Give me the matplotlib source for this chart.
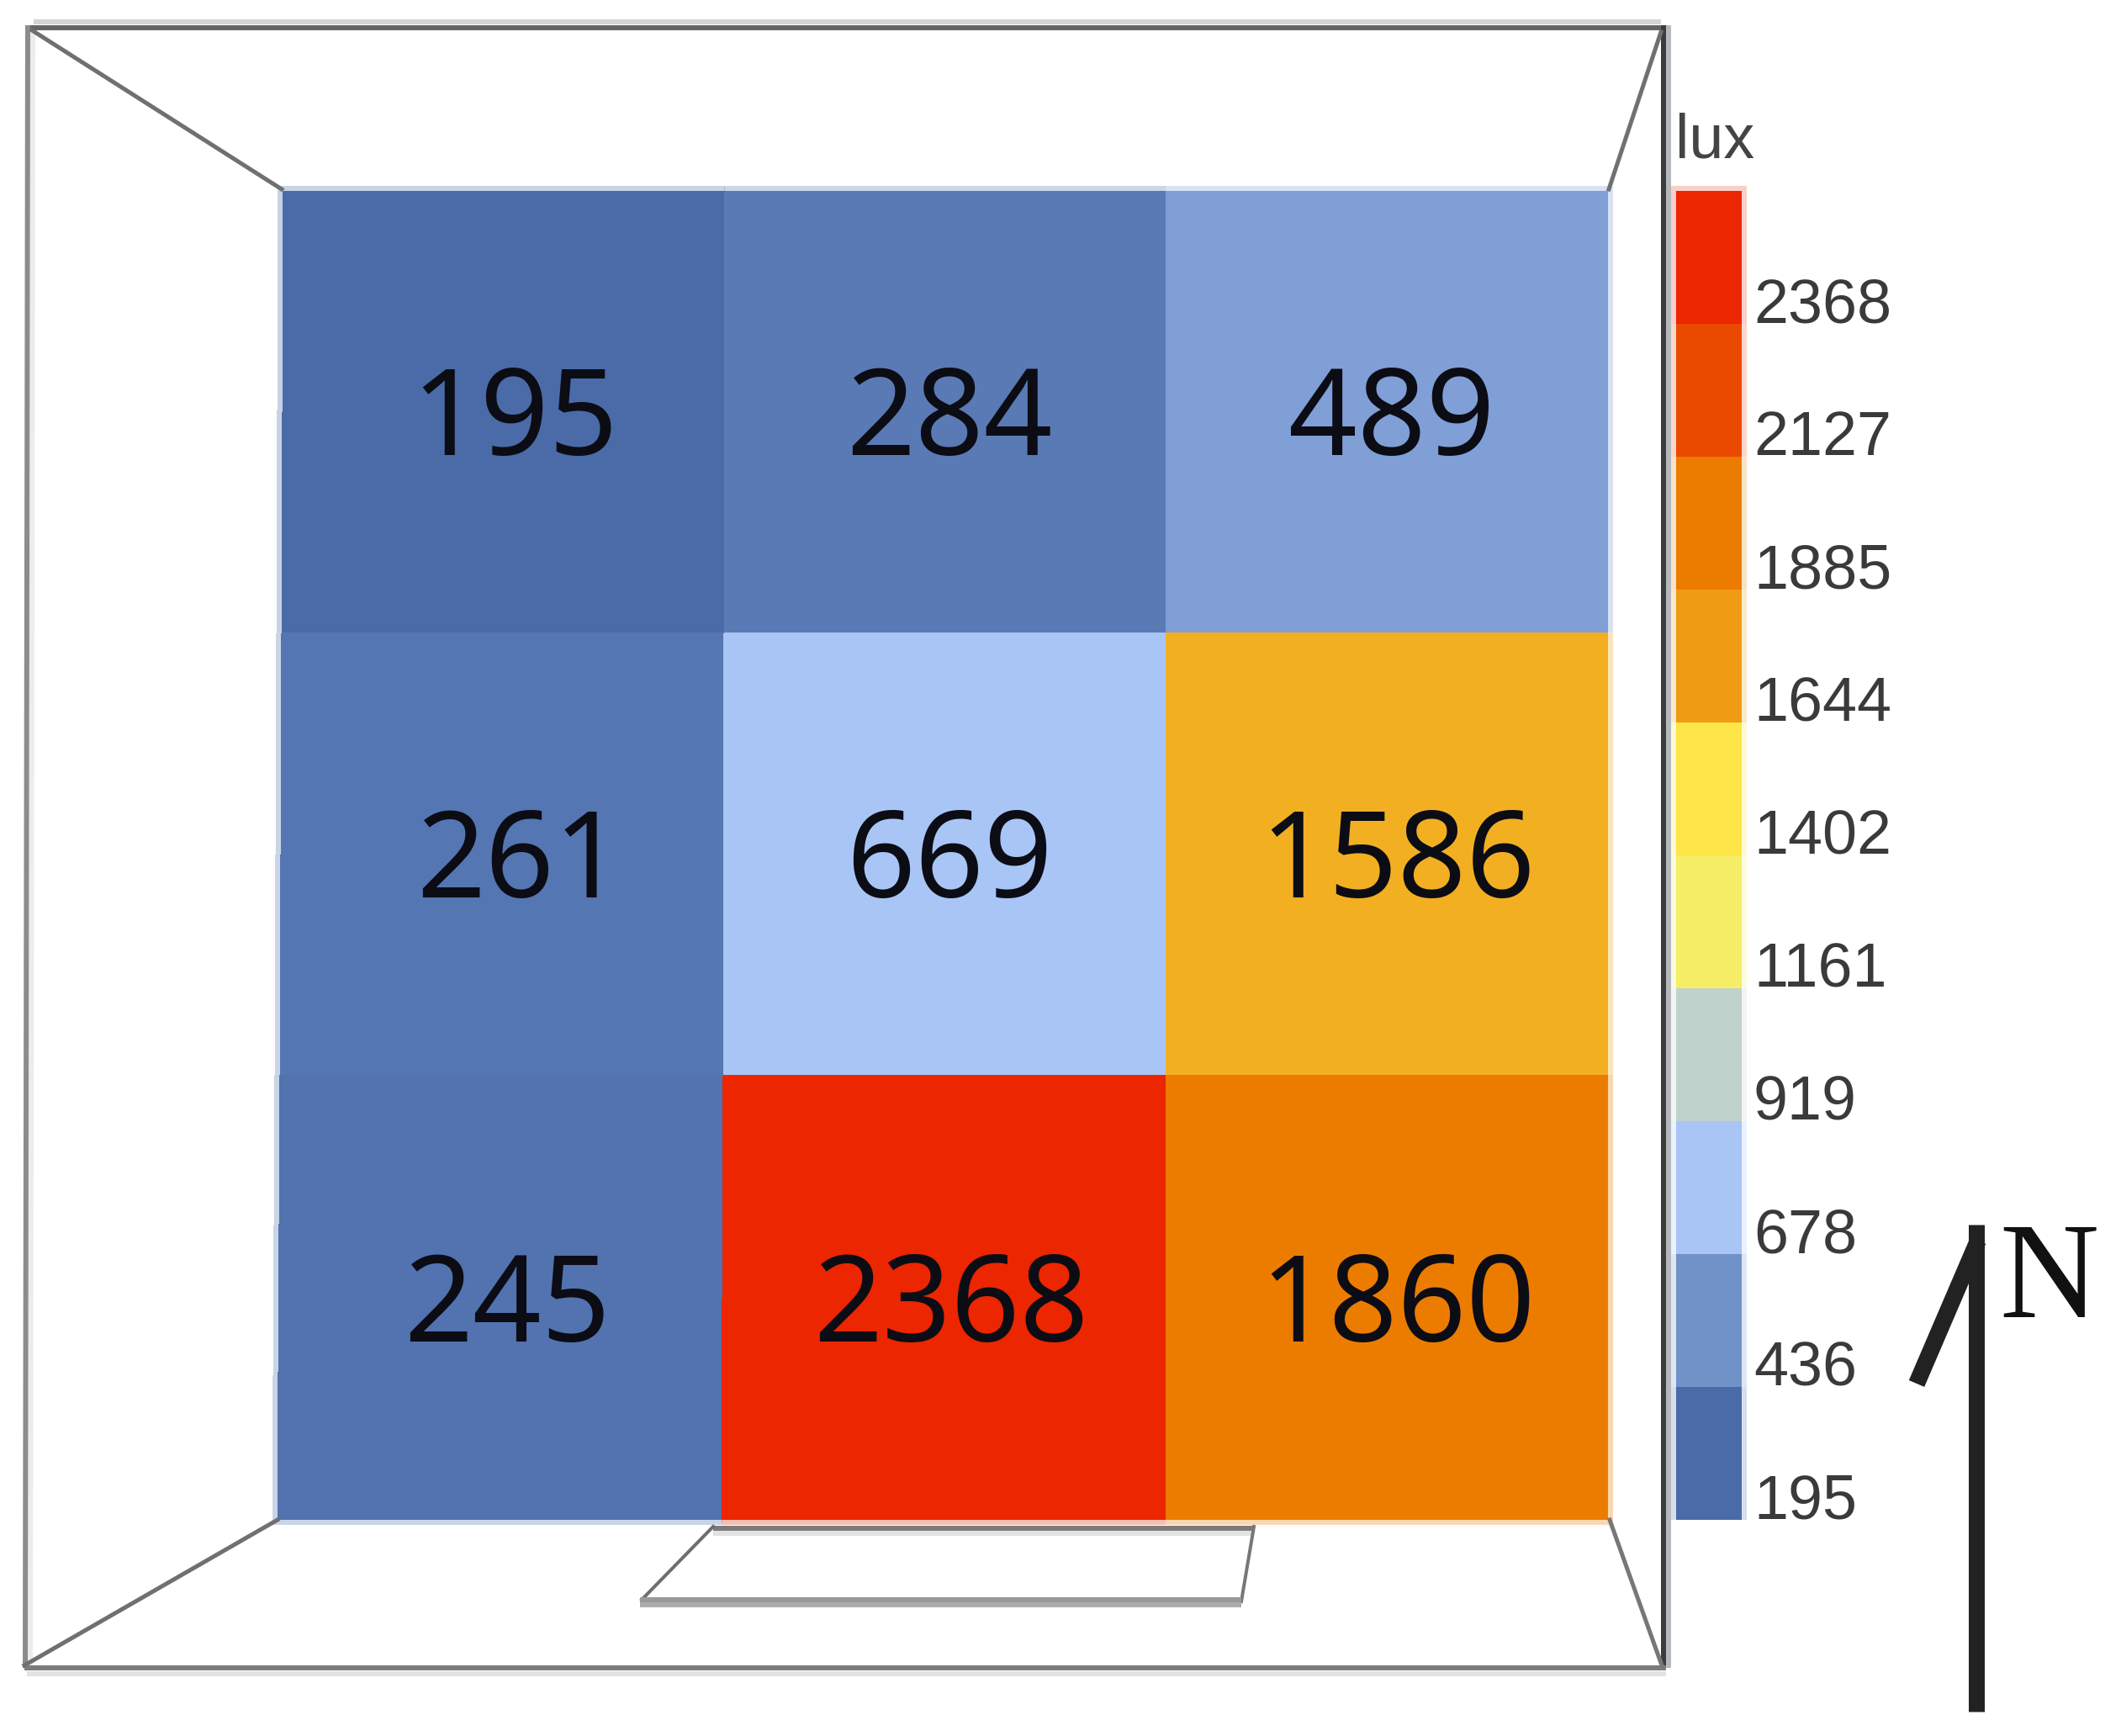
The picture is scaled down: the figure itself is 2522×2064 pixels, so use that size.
import numpy as np
import matplotlib
matplotlib.use("Agg")
import matplotlib.pyplot as plt
from matplotlib.colors import LinearSegmentedColormap, ListedColormap, Normalize

# illuminance grid, north row first
lux_top = [195, 284, 489]
lux_middle = [261, 669, 1586]
lux_bottom = [245, 2368, 1860]

# legend, top to bottom
legend_labels = ["2368", "2127", "1885", "1644", "1402", "1161", "919", "678", "436", "195"]
legend_colors = ["#EB2600", "#EA4A00", "#EC7C00", "#EF9C14", "#FEE548",
                 "#F5EE66", "#C0D2CC", "#A8C5F5", "#7191C9", "#4A6BA8"]

# colours of the cells, by value
cell_levels = [195, 245, 261, 284, 489, 669, 1586, 1860, 2368]
cell_colors = ["#4A6BA8", "#5272B0", "#5476B3", "#5A7AB5", "#7F9FD6",
               "#A8C5F5", "#F3AF22", "#EC7C00", "#EB2600"]

W, H = 2522, 2064
DPI = 100
PT = 72 / DPI  # pixels to points


def room_lines(ax):
    # outer frame, each edge has a pale ghost next to it
    ax.plot([40, 1975], [26, 26], color="#d4d4d4", lw=6 * PT, solid_capstyle="butt")
    ax.plot([30, 1981], [33, 33], color="#666666", lw=6 * PT, solid_capstyle="butt")
    ax.plot([39, 36], [36, 1980], color="#ececec", lw=6 * PT, solid_capstyle="butt")
    ax.plot([33, 30], [30, 1983], color="#8c8c8c", lw=6 * PT, solid_capstyle="butt")
    ax.plot([1978, 1978], [30, 1983], color="#3c3c3c", lw=6 * PT, solid_capstyle="butt")
    ax.plot([1984, 1984], [30, 1983], color="#b4b8bc", lw=6 * PT, solid_capstyle="butt")
    ax.plot([29, 1981], [1983, 1983], color="#7c7c7c", lw=6 * PT, solid_capstyle="butt")
    ax.plot([32, 1981], [1990, 1990], color="#e2e2e2", lw=6 * PT, solid_capstyle="butt")
    # corners of the room
    ax.plot([38, 335], [36, 225], color="#707070", lw=5 * PT)
    ax.plot([1975, 1913], [38, 225], color="#707070", lw=5 * PT)
    ax.plot([29, 330], [1980, 1807], color="#707070", lw=5 * PT)
    ax.plot([1976, 1914], [1980, 1807], color="#777777", lw=5 * PT)
    # window
    ax.plot([848, 1491], [1817, 1817], color="#7c7c7c", lw=6 * PT, solid_capstyle="butt")
    ax.plot([848, 1491], [1823, 1823], color="#e2e2e2", lw=6 * PT, solid_capstyle="butt")
    ax.plot([848, 763], [1815, 1902], color="#6e6e6e", lw=4 * PT)
    ax.plot([1491, 1476], [1815, 1904], color="#777777", lw=4 * PT)
    ax.plot([761, 1476], [1902, 1902], color="#999999", lw=6 * PT, solid_capstyle="butt")
    ax.plot([761, 1476], [1908, 1908], color="#ababab", lw=6 * PT, solid_capstyle="butt")


def main():
    fig = plt.figure(figsize=(W / DPI, H / DPI), dpi=DPI)
    ax = fig.add_axes([0, 0, 1, 1])
    ax.set_xlim(0, W)
    ax.set_ylim(H, 0)
    ax.axis("off")

    room_lines(ax)

    # heat map, the floor is very slightly skewed towards the bottom left
    values = np.array([lux_top, lux_middle, lux_bottom])
    nodes = Normalize(min(cell_levels), max(cell_levels))
    cmap = LinearSegmentedColormap.from_list(
        "lux", [(float(nodes(v)), c) for v, c in zip(cell_levels, cell_colors)], N=2048)
    x_edges = np.array([[337, 862, 1386, 1912],
                        [335, 861, 1386, 1912],
                        [333, 860, 1386, 1912],
                        [330, 858, 1386, 1912]])
    y_edges = np.array([[227] * 4, [752] * 4, [1278] * 4, [1807] * 4])

    # soft edge round the map
    x_halo = x_edges + np.array([-6, 0, 0, 6])
    y_halo = y_edges + np.array([[-6], [0], [0], [6]])
    ax.pcolormesh(x_halo, y_halo, values, cmap=cmap, norm=nodes, alpha=0.3, shading="flat",
                  linewidth=0)
    ax.pcolormesh(x_edges, y_edges, values, cmap=cmap, norm=nodes, shading="flat")

    text_x = [[612, 1129, 1655], [618, 1129, 1662], [603, 1131, 1662]]
    text_y = [503, 1030, 1557]
    for r, row in enumerate(values):
        for c, val in enumerate(row):
            ax.text(text_x[r][c], text_y[r], str(val), ha="center", va="center",
                    family="Noto Sans", fontsize=103, color="#0c0c14")

    # legend
    edges = np.linspace(227, 1807, len(legend_labels) + 1)
    idx = np.arange(len(legend_labels)).reshape(-1, 1)
    leg_cmap = ListedColormap(legend_colors)
    halo_edges = edges.copy()
    halo_edges[0] -= 6
    ax.pcolormesh([1987, 2077], halo_edges, idx, cmap=leg_cmap, alpha=0.22, shading="flat")
    ax.pcolormesh([1993, 2071], edges, idx, cmap=leg_cmap, shading="flat")
    for label, y in zip(legend_labels, edges[1:]):
        ax.text(2085, y - 2, label, ha="left", va="baseline", family="Liberation Sans",
                fontsize=53, color="#3a3a3a")
    ax.text(1992, 187, "lux", ha="left", va="baseline", family="Liberation Sans",
            fontsize=53, color="#444444")

    # north arrow
    ax.plot([2350, 2350], [1456, 2035], color="#222222", lw=19 * PT, solid_capstyle="butt")
    ax.plot([2279, 2352], [1645, 1475], color="#222222", lw=20 * PT, solid_capstyle="butt")
    ax.text(2377, 1566, "N", ha="left", va="baseline", family="Liberation Serif",
            fontsize=118, color="#111111")

    fig.savefig("out.png", dpi=DPI, facecolor="white")


if __name__ == "__main__":
    main()
